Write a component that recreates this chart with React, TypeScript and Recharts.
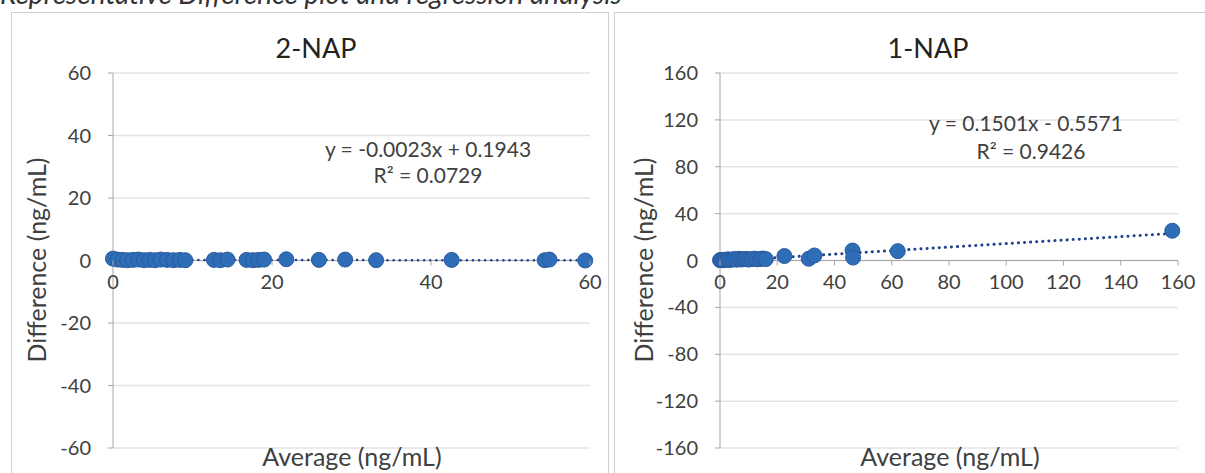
import React from "react";
import {
  ScatterChart,
  Scatter,
  XAxis,
  YAxis,
  CartesianGrid,
  ReferenceLine,
} from "recharts";

// 2-NAP difference plot values
const nap2Avg = [0, 0.6, 1.2, 1.8, 2.5, 3.2, 3.9, 4.6, 5.3, 6, 6.8, 7.6, 8.4, 9.1, 12.7, 13.5, 14.4, 16.8, 17.6, 18.3, 19, 21.8, 25.9, 29.2, 33.1, 42.6, 54.3, 54.9, 59.4];
const nap2Diff = [0.6, 0.3, 0.2, 0.1, 0.2, 0.3, 0.1, 0.2, 0.1, 0.3, 0.2, 0.1, 0.2, 0.1, 0.2, 0.1, 0.3, 0.2, 0.1, 0.2, 0.3, 0.4, 0.2, 0.3, 0.1, 0.2, 0.1, 0.3, 0.0];
const nap2TrendAvg = [0, 59.4];
const nap2TrendDiff = [0.19, 0.06];
const nap2XTicks = [0, 20, 40, 60];
const nap2YTicks = [-60, -40, -20, 0, 20, 40, 60];

// 1-NAP difference plot values
const nap1Avg = [0, 0.5, 1, 1.5, 2, 2.8, 3.5, 4.3, 5, 5.8, 6.6, 7.4, 8.2, 9, 10, 11, 12, 13, 14, 15, 16, 22.5, 31, 33, 46.3, 46.5, 62.1, 158];
const nap1Diff = [0.3, 0.5, 0.2, 0.6, 0.4, 1, 0.5, 0.8, 1.2, 0.7, 1.5, 0.9, 1.1, 1.4, 0.8, 1.2, 1.6, 1.0, 1.3, 1.7, 1.2, 3.8, 1.5, 4.3, 8.5, 2.5, 8.0, 25.4];
const nap1TrendAvg = [0, 158];
const nap1TrendDiff = [-0.56, 23.1];
const nap1XTicks = [0, 20, 40, 60, 80, 100, 120, 140, 160];
const nap1YTicks = [-160, -120, -80, -40, 0, 40, 80, 120, 160];

const FONT = "Lato, 'Noto Sans', sans-serif";
const TEXT = "#404040";
const GRID = "#e3e3e3";
const AXIS = "#a6a6a6";
const DOT = "#2e6db8";
const TREND = "#1f3f8f";

const zip = (xs: number[], ys: number[]) => xs.map((x, i) => ({ x, y: ys[i] }));

const PLOT_TOP = 73;
const PLOT_H = 375;
const ZERO_Y = PLOT_TOP + PLOT_H / 2;

const Dot = (props: any) => (
  <circle cx={props.cx} cy={props.cy} r={7.5} fill={DOT} stroke="#2a5b9c" strokeWidth={1} />
);
const NoDot = () => <g />;

const XTick = (props: any) => {
  const { x, payload } = props;
  return (
    <g>
      <line x1={x} x2={x} y1={ZERO_Y} y2={ZERO_Y + 5} stroke={AXIS} />
      <text x={x} y={ZERO_Y + 28} textAnchor="middle" fill={TEXT} fontSize={20} fontFamily={FONT}>
        {payload.value}
      </text>
    </g>
  );
};

type PanelProps = {
  left: number;
  width: number;
  marginLeft: number;
  marginRight: number;
  xMax: number;
  yMax: number;
  xTicks: number[];
  yTicks: number[];
  points: { x: number; y: number }[];
  trend: { x: number; y: number }[];
  trendWidth: number;
};

const Panel = ({ left, width, marginLeft, marginRight, xMax, yMax, xTicks, yTicks, points, trend, trendWidth }: PanelProps) => (
  <div style={{ position: "absolute", left, top: 0 }}>
    <ScatterChart
      width={width}
      height={473}
      margin={{ top: PLOT_TOP, right: marginRight, bottom: 473 - PLOT_TOP - PLOT_H - 1, left: marginLeft }}
    >
      <CartesianGrid vertical={false} stroke={GRID} strokeWidth={1.5} />
      <XAxis
        type="number"
        dataKey="x"
        domain={[0, xMax]}
        ticks={xTicks}
        height={1}
        axisLine={false}
        tickLine={false}
        tick={<XTick />}
        interval={0}
      />
      <YAxis
        type="number"
        dataKey="y"
        domain={[-yMax, yMax]}
        ticks={yTicks}
        width={60}
        interval={0}
        axisLine={{ stroke: AXIS }}
        tickLine={{ stroke: AXIS }}
        tickSize={5}
        tickMargin={17}
        tick={{ fill: TEXT, fontSize: 20, fontFamily: FONT }}
      />
      <ReferenceLine y={0} stroke={AXIS} />
      <Scatter
        data={trend}
        shape={<NoDot />}
        line={{ stroke: TREND, strokeWidth: trendWidth, strokeDasharray: "0.1 6", strokeLinecap: "round" }}
        isAnimationActive={false}
      />
      <Scatter data={points} shape={<Dot />} isAnimationActive={false} />
    </ScatterChart>
  </div>
);

const label = (text: string, x: number, y: number, size: number, extra: React.CSSProperties = {}) => (
  <div
    style={{
      position: "absolute",
      left: x,
      top: y,
      transform: "translate(-50%, -50%)",
      whiteSpace: "nowrap",
      fontFamily: FONT,
      fontSize: size,
      color: TEXT,
      lineHeight: 1,
      ...extra,
    }}
  >
    {text}
  </div>
);

export default function App() {
  return (
    <div style={{ position: "fixed", left: 0, top: 0, width: 1205, height: 473, overflow: "hidden", background: "#fff" }}>
      <div
        style={{
          position: "absolute",
          left: 0,
          top: -21,
          fontFamily: FONT,
          fontStyle: "italic",
          fontSize: 28,
          color: "#333",
          whiteSpace: "nowrap",
          lineHeight: 1,
        }}
      >
        Representative Difference plot and regression analysis
      </div>
      {/* panel frames */}
      <div style={{ position: "absolute", left: 11, top: 12, width: 596, height: 470, border: "1px solid #cfcfcf" }} />
      <div style={{ position: "absolute", left: 614, top: 12, width: 600, height: 470, border: "1px solid #cfcfcf" }} />

      <Panel
        left={0}
        width={607}
        marginLeft={53}
        marginRight={17}
        xMax={60}
        yMax={60}
        xTicks={nap2XTicks}
        yTicks={nap2YTicks}
        points={zip(nap2Avg, nap2Diff)}
        trend={zip(nap2TrendAvg, nap2TrendDiff)}
        trendWidth={2.5}
      />
      <Panel
        left={610}
        width={595}
        marginLeft={50}
        marginRight={27}
        xMax={160}
        yMax={160}
        xTicks={nap1XTicks}
        yTicks={nap1YTicks}
        points={zip(nap1Avg, nap1Diff)}
        trend={zip(nap1TrendAvg, nap1TrendDiff)}
        trendWidth={3}
      />

      {label("2-NAP", 316, 47, 27, { color: "#222" })}
      {label("1-NAP", 928, 47, 27, { color: "#222" })}
      {label("y = -0.0023x + 0.1943", 428, 148, 21)}
      {label("R² = 0.0729", 428, 174, 21)}
      {label("y = 0.1501x - 0.5571", 1026, 122, 21)}
      {label("R² = 0.9426", 1031, 150, 21)}
      {label("Average (ng/mL)", 352, 456, 25)}
      {label("Average (ng/mL)", 950, 456, 25)}
      {label("Difference (ng/mL)", 36, 260, 25, { transform: "translate(-50%, -50%) rotate(-90deg)" })}
      {label("Difference (ng/mL)", 643, 260, 25, { transform: "translate(-50%, -50%) rotate(-90deg)" })}
    </div>
  );
}
